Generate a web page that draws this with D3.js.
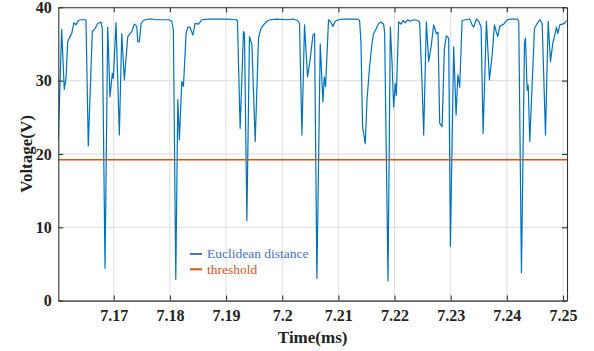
<!DOCTYPE html>
<html>
<head>
<meta charset="utf-8">
<script src="https://cdn.jsdelivr.net/npm/d3@7"></script>
<style>
  body { margin: 0; background: #fff; }
  svg { display: block; }
</style>
</head>
<body>
<div id="chart"></div>
<script>
// signal: time (ms) and voltage (V)
const timeMs = [
  7.16013, 7.16073, 7.16119, 7.16150, 7.16180, 7.16221, 7.16251, 7.16292, 7.16328, 7.16369,
  7.16417, 7.16488, 7.16506, 7.16547, 7.16619, 7.16667, 7.16715, 7.16774, 7.16797, 7.16845,
  7.16893, 7.16934, 7.16975, 7.16993, 7.17041, 7.17100, 7.17143, 7.17189, 7.17250, 7.17291,
  7.17321, 7.17367, 7.17410, 7.17428, 7.17456, 7.17487, 7.17528, 7.17617, 7.17677, 7.17736,
  7.17856, 7.17973, 7.18034, 7.18062, 7.18105, 7.18141, 7.18169, 7.18212, 7.18241, 7.18289,
  7.18319, 7.18360, 7.18408, 7.18449, 7.18508, 7.18569, 7.18686, 7.18836, 7.19014, 7.19180,
  7.19203, 7.19251, 7.19310, 7.19328, 7.19371, 7.19417, 7.19460, 7.19519, 7.19578, 7.19620,
  7.19667, 7.19727, 7.19786, 7.19906, 7.20084, 7.20201, 7.20273, 7.20308, 7.20351, 7.20397,
  7.20451, 7.20499, 7.20547, 7.20576, 7.20618, 7.20677, 7.20725, 7.20749, 7.20772, 7.20825,
  7.20856, 7.20904, 7.20945, 7.21004, 7.21064, 7.21212, 7.21332, 7.21378, 7.21403, 7.21431,
  7.21479, 7.21510, 7.21556, 7.21599, 7.21627, 7.21676, 7.21717, 7.21759, 7.21806, 7.21824,
  7.21884, 7.21925, 7.21955, 7.21984, 7.22014, 7.22032, 7.22073, 7.22116, 7.22151, 7.22192,
  7.22233, 7.22282, 7.22340, 7.22412, 7.22447, 7.22490, 7.22519, 7.22567, 7.22608, 7.22651,
  7.22697, 7.22745, 7.22775, 7.22804, 7.22847, 7.22888, 7.22923, 7.22964, 7.22995, 7.23053,
  7.23096, 7.23128, 7.23160, 7.23203, 7.23262, 7.23339, 7.23381, 7.23410, 7.23458, 7.23499,
  7.23542, 7.23577, 7.23636, 7.23690, 7.23738, 7.23779, 7.23809, 7.23838, 7.23873, 7.23916,
  7.23945, 7.24005, 7.24064, 7.24184, 7.24212, 7.24260, 7.24314, 7.24331, 7.24362, 7.24380,
  7.24408, 7.24451, 7.24492, 7.24540, 7.24586, 7.24629, 7.24688, 7.24736, 7.24777, 7.24818,
  7.24848, 7.24884, 7.24907, 7.24943, 7.24986, 7.25027, 7.25062
];
const voltage = [
  22.0, 37.0, 28.8, 30.3, 35.3, 36.0, 36.4, 37.9, 37.6, 38.2,
  38.3, 38.3, 38.2, 21.1, 36.7, 37.1, 37.8, 38.0, 37.0, 4.4,
  37.3, 27.8, 31.0, 30.3, 37.9, 22.6, 36.4, 30.1, 36.0, 36.4,
  36.7, 37.7, 37.4, 35.3, 35.3, 37.8, 38.2, 38.4, 38.4, 38.3,
  38.3, 38.3, 38.1, 36.9, 2.9, 27.4, 21.9, 29.9, 29.2, 36.4,
  37.3, 37.3, 36.2, 37.8, 37.7, 38.3, 38.4, 38.4, 38.4, 38.3,
  38.1, 23.5, 36.7, 36.4, 10.9, 36.0, 34.9, 21.7, 35.8, 37.1,
  37.6, 38.1, 38.3, 38.4, 38.3, 38.4, 38.2, 37.8, 22.6, 37.6,
  30.5, 33.0, 36.2, 36.4, 3.0, 35.0, 27.1, 30.5, 29.2, 38.3,
  38.1, 37.4, 38.1, 38.3, 38.4, 38.4, 38.4, 38.2, 35.1, 23.7,
  21.4, 27.4, 31.9, 35.1, 36.4, 37.1, 37.8, 38.0, 37.7, 36.5,
  2.7, 37.3, 32.6, 26.4, 29.6, 28.0, 38.0, 37.7, 38.2, 37.9,
  38.3, 38.1, 38.3, 38.2, 38.0, 29.6, 22.6, 38.0, 32.6, 34.6,
  37.6, 36.4, 36.6, 24.2, 23.7, 34.4, 36.1, 35.8, 7.4, 34.6,
  25.3, 30.8, 29.1, 38.2, 38.3, 38.4, 37.6, 37.3, 38.4, 38.1,
  37.3, 22.8, 38.1, 30.1, 33.5, 37.6, 36.7, 36.0, 37.4, 37.6,
  37.7, 38.3, 38.4, 38.4, 38.1, 3.8, 35.1, 35.8, 28.7, 29.4,
  21.7, 29.6, 37.1, 37.8, 38.3, 37.8, 22.6, 38.1, 32.6, 35.1,
  36.0, 37.3, 36.4, 37.6, 37.7, 37.8, 38.2
];
const threshold = 19.2;

const xTickValues = [7.17, 7.18, 7.19, 7.2, 7.21, 7.22, 7.23, 7.24, 7.25];
const yTickValues = [0, 10, 20, 30, 40];
const seriesNames = ["Euclidean distance", "threshold"];

function drawChart() {
    const width = 594;
    const height = 351;
    const margin = { top: 7.3, right: 27, bottom: 50.4, left: 58.3 };
    const innerW = width - margin.left - margin.right;
    const innerH = height - margin.top - margin.bottom;

    const svg = d3.select("#chart")
        .append("svg")
        .attr("width", width)
        .attr("height", height);

    const x = d3.scaleLinear()
        .domain([7.16013, 7.25071])
        .range([0, innerW]);

    const y = d3.scaleLinear()
        .domain([0, 40])
        .range([innerH, 0]);

    const g = svg.append("g")
        .attr("transform", `translate(${margin.left},${margin.top})`);

    svg.append("defs").append("clipPath")
        .attr("id", "plot-clip")
        .append("rect")
        .attr("width", innerW)
        .attr("height", innerH);

    // сетка
    g.append("g")
        .selectAll("line")
        .data(xTickValues)
        .enter().append("line")
        .attr("x1", d => x(d)).attr("x2", d => x(d))
        .attr("y1", 0).attr("y2", innerH)
        .attr("stroke", "#dedede")
        .attr("stroke-width", 1);

    g.append("g")
        .selectAll("line")
        .data(yTickValues)
        .enter().append("line")
        .attr("x1", 0).attr("x2", innerW)
        .attr("y1", d => y(d)).attr("y2", d => y(d))
        .attr("stroke", "#dedede")
        .attr("stroke-width", 1);

    const plot = g.append("g").attr("clip-path", "url(#plot-clip)");

    const line = d3.line()
        .x((d, i) => x(timeMs[i]))
        .y(d => y(d));

    plot.append("path")
        .datum(voltage)
        .attr("fill", "none")
        .attr("stroke", "#0072BD")
        .attr("stroke-width", 1.2)
        .attr("stroke-linejoin", "round")
        .attr("d", line);

    plot.append("line")
        .attr("x1", 0).attr("x2", innerW)
        .attr("y1", y(threshold)).attr("y2", y(threshold))
        .attr("stroke", "#D95319")
        .attr("stroke-width", 1.5);

    // оси: тики внутрь, как в MATLAB
    const fmt = d => String(+d.toFixed(2));
    const axisColor = "#333";
    const font = "'Liberation Serif', 'Times New Roman', serif";

    const xAxis = g.append("g")
        .attr("transform", `translate(0,${innerH})`)
        .call(d3.axisBottom(x).tickValues(xTickValues).tickFormat(fmt)
            .tickSizeInner(-5).tickSizeOuter(0).tickPadding(9));

    const yAxis = g.append("g")
        .call(d3.axisLeft(y).tickValues(yTickValues).tickFormat(fmt)
            .tickSizeInner(-5).tickSizeOuter(0).tickPadding(6.5));

    const topAxis = g.append("g")
        .call(d3.axisTop(x).tickValues(xTickValues).tickFormat("")
            .tickSizeInner(-5).tickSizeOuter(0));

    const rightAxis = g.append("g")
        .attr("transform", `translate(${innerW},0)`)
        .call(d3.axisRight(y).tickValues(yTickValues).tickFormat("")
            .tickSizeInner(-5).tickSizeOuter(0));

    [xAxis, yAxis, topAxis, rightAxis].forEach(a => {
        a.select(".domain").attr("stroke", axisColor).attr("stroke-width", 1.1);
        a.selectAll(".tick line").attr("stroke", axisColor).attr("stroke-width", 1.1);
        a.selectAll(".tick text")
            .attr("fill", "#222")
            .style("font-family", font)
            .style("font-weight", "bold")
            .style("font-size", "16px");
    });

    // подписи осей
    svg.append("text")
        .attr("x", margin.left + innerW / 2)
        .attr("y", 343)
        .attr("text-anchor", "middle")
        .style("font-family", font)
        .style("font-weight", "bold")
        .style("font-size", "17px")
        .attr("fill", "#222")
        .text("Time(ms)");

    svg.append("text")
        .attr("transform", `translate(32,${margin.top + innerH / 2}) rotate(-90)`)
        .attr("text-anchor", "middle")
        .style("font-family", font)
        .style("font-weight", "bold")
        .style("font-size", "17px")
        .attr("fill", "#222")
        .text("Voltage(V)");

    // легенда
    const legendColors = ["#4472C4", "#D95319"];
    const legend = svg.append("g")
        .attr("transform", "translate(190,254)");

    const item = legend.selectAll("g")
        .data(seriesNames)
        .enter().append("g")
        .attr("transform", (d, i) => `translate(0,${i * 15.3})`);

    item.append("line")
        .attr("x1", 0).attr("x2", 12)
        .attr("stroke", (d, i) => legendColors[i])
        .attr("stroke-width", 2);

    item.append("text")
        .attr("x", 17)
        .attr("dy", "0.33em")
        .style("font-family", font)
        .style("font-size", "13.5px")
        .attr("fill", (d, i) => legendColors[i])
        .text(d => d);
}

document.addEventListener("DOMContentLoaded", drawChart);
</script>
</body>
</html>
